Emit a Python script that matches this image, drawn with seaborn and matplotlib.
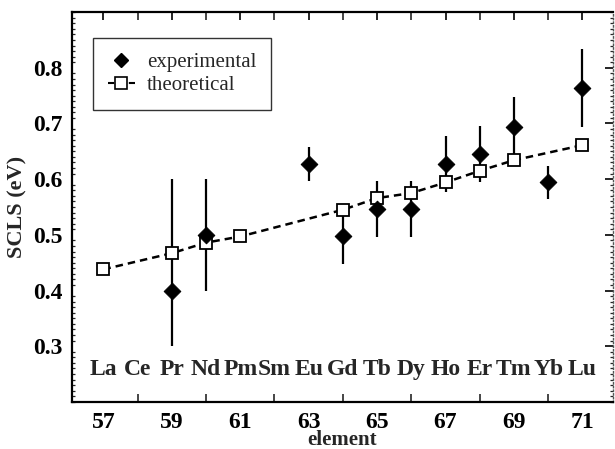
import numpy as np
import pandas as pd
import matplotlib
matplotlib.use("Agg")
import matplotlib.pyplot as plt
from matplotlib.lines import Line2D
from matplotlib.ticker import MultipleLocator
import seaborn as sns

# ---- data ----
elements = ["La", "Ce", "Pr", "Nd", "Pm", "Sm", "Eu", "Gd", "Tb", "Dy", "Ho", "Er", "Tm", "Yb", "Lu"]
element_z = [57, 58, 59, 60, 61, 62, 63, 64, 65, 66, 67, 68, 69, 70, 71]

theo_z = [57, 59, 60, 61, 64, 65, 66, 67, 68, 69, 71]
theo_scls = [0.438, 0.467, 0.486, 0.497, 0.545, 0.566, 0.575, 0.594, 0.615, 0.634, 0.661]

exp_z = [59, 60, 63, 64, 65, 66, 67, 68, 69, 70, 71]
exp_scls = [0.40, 0.50, 0.627, 0.497, 0.546, 0.546, 0.627, 0.645, 0.693, 0.594, 0.763]
exp_err_lo = [0.10, 0.10, 0.03, 0.05, 0.05, 0.05, 0.05, 0.05, 0.055, 0.03, 0.07]
exp_err_hi = [0.20, 0.10, 0.03, 0.05, 0.05, 0.05, 0.05, 0.05, 0.055, 0.03, 0.07]

x_ticks = [57, 59, 61, 63, 65, 67, 69, 71]
y_ticks = [0.3, 0.4, 0.5, 0.6, 0.7, 0.8]

theo_df = pd.DataFrame({"z": theo_z, "scls": theo_scls})
exp_df = pd.DataFrame({"z": exp_z, "scls": exp_scls})

sns.set_theme(style="white")
plt.rcParams["font.family"] = ["Liberation Serif", "DejaVu Serif"]

fig = plt.figure(figsize=(6.15, 4.49), dpi=100)
ax = fig.add_axes([0.117, 0.105, 0.880, 0.868])

# error bars
ax.errorbar(exp_z, exp_scls, yerr=[exp_err_lo, exp_err_hi], fmt="none",
            ecolor="black", elinewidth=1.6, capsize=0, zorder=2)

# theoretical line with open squares
sns.lineplot(data=theo_df, x="z", y="scls", ax=ax, color="black",
             linewidth=1.8, marker="s", markersize=9, markerfacecolor="white",
             markeredgecolor="black", markeredgewidth=1.3, zorder=3)
ax.lines[-1].set_dashes([3, 2])

# experimental diamonds
sns.scatterplot(data=exp_df, x="z", y="scls", ax=ax, marker="D", s=72,
                color="black", edgecolor="black", zorder=4)

# element names inside the plot
for z, name in zip(element_z, elements):
    ax.text(z, 0.259, name, ha="center", va="center", fontsize=17,
            fontweight="bold")

ax.set_xlim(56.08, 71.9)
ax.set_ylim(0.2, 0.9)
ax.set_xticks(x_ticks)
ax.set_xticklabels([str(t) for t in x_ticks])
ax.xaxis.set_minor_locator(MultipleLocator(1))
ax.set_yticks(y_ticks)
ax.set_yticklabels([f"{t:.1f}" for t in y_ticks])
ax.yaxis.set_minor_locator(MultipleLocator(0.01))

ax.tick_params(axis="both", which="major", direction="in", length=6, width=1.2,
               labelsize=17, colors="black", top=True, right=True, pad=7)
ax.tick_params(axis="x", which="minor", direction="in", length=6, width=1.2,
               top=True, bottom=True)
ax.tick_params(axis="y", which="minor", direction="in", length=2, width=0.9,
               left=True, right=True)
for lab in ax.get_xticklabels() + ax.get_yticklabels():
    lab.set_fontweight("bold")

for side in ["left", "bottom", "top"]:
    ax.spines[side].set_color("black")
    ax.spines[side].set_linewidth(1.6)
ax.spines["right"].set_color("#555555")
ax.spines["right"].set_linewidth(1.0)
ax.spines["right"].set_linestyle(":")

ax.set_xlabel("element", fontsize=15, fontweight="bold", labelpad=-2)
ax.set_ylabel("SCLS (eV)", fontsize=16, fontweight="bold", labelpad=4)

handles = [
    Line2D([], [], linestyle="none", marker="D", markersize=7, color="black"),
    Line2D([], [], linestyle=(0, (3, 2)), linewidth=1.5, color="black", marker="s",
           markersize=8, markerfacecolor="white", markeredgecolor="black",
           markeredgewidth=1.2),
]
leg = ax.legend(handles, ["experimental", "theoretical"], loc="upper left",
                bbox_to_anchor=(0.039, 0.933), borderaxespad=0,
                frameon=True, fancybox=False, edgecolor="black", handlelength=1.3,
                handletextpad=0.6, labelspacing=0.15, borderpad=0.7,
                prop={"family": ["Liberation Serif"], "size": 15})
leg.get_frame().set_linewidth(1.0)

fig.savefig("out.png", dpi=100)
